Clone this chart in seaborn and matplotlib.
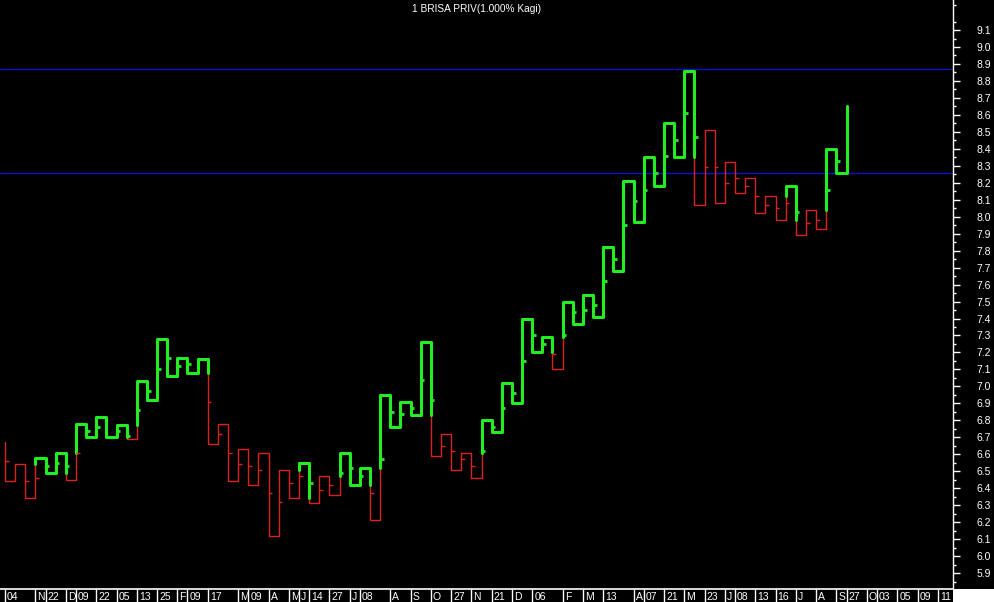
import numpy as np
import pandas as pd
import seaborn as sns
import matplotlib.pyplot as plt
from matplotlib.patches import Rectangle

# Kagi reversal levels (one per vertical line)
start_price = 6.67
kagi_levels = [6.44, 6.54, 6.34, 6.58, 6.49, 6.61, 6.45, 6.78, 6.70, 6.82,
               6.70, 6.77, 6.69, 7.03, 6.92, 7.28, 7.06, 7.17, 7.08, 7.16,
               6.66, 6.78, 6.44, 6.63, 6.42, 6.61, 6.12, 6.51, 6.34, 6.55,
               6.31, 6.47, 6.36, 6.61, 6.42, 6.52, 6.21, 6.95, 6.76, 6.91,
               6.83, 7.26, 6.59, 6.72, 6.51, 6.61, 6.46, 6.80, 6.73, 7.02,
               6.90, 7.40, 7.20, 7.29, 7.10, 7.50, 7.37, 7.54, 7.41, 7.82,
               7.68, 8.21, 7.97, 8.35, 8.18, 8.55, 8.35, 8.86, 8.07, 8.51,
               8.08, 8.32, 8.14, 8.23, 8.02, 8.12, 7.98, 8.18, 7.89, 8.04,
               7.93, 8.40, 8.26, 8.65]

# period marker on each vertical line (nan = none)
nan = np.nan
period_marks = [6.56, nan, 6.44, 6.46, 6.53, 6.55, 6.53, 6.61, 6.74, 6.76,
                nan, 6.74, 6.71, 6.86, 6.97, 7.10, 7.17, 7.12, 7.13, nan,
                6.91, 6.72, 6.61, 6.54, 6.53, 6.51, 6.37, 6.32, 6.43, 6.47,
                6.43, 6.39, 6.42, 6.49, 6.52, 6.47, 6.37, 6.57, 6.85, 6.84,
                6.87, 7.04, 6.92, 6.65, 6.62, 6.57, 6.53, 6.62, 6.76, 6.87,
                6.96, 7.15, 7.30, 7.25, 7.19, 7.30, 7.44, 7.45, 7.48, 7.62,
                7.75, 7.95, 8.09, 8.16, 8.26, 8.36, 8.45, 8.61, 8.47, 8.29,
                8.29, 8.20, 8.23, 8.18, 8.12, 8.07, 8.05, 8.08, 8.03, 7.96,
                7.98, 8.16, 8.33, nan]

# horizontal reference lines
hlines = [8.87, 8.26]

# date labels on the bottom strip and the vertical line index they start at
date_labels = ["04", "N", "22", "D", "09", "22", "05", "13", "25", "F",
               "09", "17", "M", "09", "A", "M", "J", "14", "27", "J",
               "08", "A", "S", "O", "27", "N", "21", "D", "06", "F",
               "M", "13", "A", "07", "21", "M", "23", "J", "08", "13",
               "16", "J", "A", "S", "27", "O", "03", "05", "09", "11"]
date_pos = [0, 3, 4, 6, 7, 9, 11, 13, 15, 17,
            18, 20, 23, 24, 26, 28, 29, 30, 32, 34,
            35, 38, 40, 42, 44, 46, 48, 50, 52, 55,
            57, 59, 62, 63, 65, 67, 69, 71, 72, 74,
            76, 78, 80, 82, 83, 85, 86, 88, 90, 92]

GREEN, RED = "#22ee22", "#dd2222"

# build kagi path, split into runs of yang (thick green) / yin (thin red)
rows = []
verts = []  # (from, to, state before, split level, state after)
run = 0
state = "yin"
cur = start_price
last_high, last_low = start_price, None
rows.append((0, cur, state, run))
for i, lvl in enumerate(kagi_levels):
    before, split = state, None
    if lvl > cur:
        if state == "yin" and lvl > last_high and cur < last_high:
            split = last_high
        last_high = lvl
    elif last_low is not None and state == "yang" and lvl < last_low and cur > last_low:
        split = last_low
    if lvl <= cur:
        last_low = lvl
    if split is not None:
        rows.append((i, split, state, run))
        run += 1
        state = "yang" if state == "yin" else "yin"
        rows.append((i, split, state, run))
    rows.append((i, lvl, state, run))
    verts.append((cur, lvl, before, split, state))
    cur = lvl
    if i < len(kagi_levels) - 1:
        rows.append((i + 1, lvl, state, run))

df = pd.DataFrame(rows, columns=["x", "price", "state", "run"])

sns.set_style("dark")
plt.rcParams["font.family"] = ["Liberation Sans", "DejaVu Sans"]

W, H = 994, 602
fig = plt.figure(figsize=(W / 100, H / 100), dpi=100, facecolor="black")
ax = fig.add_axes([0, 13 / H, 953 / W, 589 / H])
ax.set_facecolor("black")

sns.lineplot(data=df, x="x", y="price", hue="state", size="state", units="run",
             estimator=None, sort=False, palette={"yang": GREEN, "yin": RED},
             sizes={"yang": 2.2, "yin": 1.0}, legend=False, ax=ax, zorder=3)

# period markers: short stubs to the right of the vertical lines
for i, m in enumerate(period_marks):
    if np.isnan(m):
        continue
    a, b, st0, split, st1 = verts[i]
    st = st0
    if split is not None:
        if (b > a and m > split) or (b < a and m < split):
            st = st1
    yang = st == "yang"
    ax.plot([i, i + 0.36], [m, m], color=GREEN if yang else RED,
            lw=2.0 if yang else 1.0, solid_capstyle="butt", zorder=3)

for h in hlines:
    ax.axhline(h, color="#1010d0", lw=1.0, zorder=2)

x0, x1 = -0.49, 93.5
ax.set_xlim(x0, x1)
ax.set_ylim(5.806, 9.277)
ax.set_xticks([])
ax.set_xlabel("")
ax.set_ylabel("")
ax.grid(False)

ax.yaxis.tick_right()
majors = np.round(np.arange(5.9, 9.15, 0.1), 1)
ax.set_yticks(majors)
ax.set_yticklabels([f"{v:.1f}" for v in majors])
ax.set_yticks(np.round(np.arange(5.85, 9.27, 0.1), 2), minor=True)
ax.tick_params(axis="y", which="major", colors="white", length=5, width=1,
               pad=12, labelsize=7.5, right=True, left=False)
ax.tick_params(axis="y", which="minor", colors="white", length=2.5, width=1,
               right=True, left=False)
for s in ["left", "top", "bottom"]:
    ax.spines[s].set_visible(False)
ax.spines["right"].set_color("white")
ax.spines["right"].set_linewidth(1)

# bottom date strip
sx = fig.add_axes([0, 0, 953 / W, 13 / H])
sx.set_facecolor("black")
sx.set_xlim(x0, x1)
sx.set_ylim(0, 1)
sx.set_xticks([])
sx.set_yticks([])
for s in ["left", "right", "bottom"]:
    sx.spines[s].set_visible(False)
sx.spines["top"].set_color("white")
sx.spines["top"].set_linewidth(1.2)
sx.vlines(date_pos, 0, 1, color="white", lw=1.0)
for p, t in zip(date_pos, date_labels):
    sx.text(p + 0.2, 0.42, t, color="white", fontsize=7.5, ha="left", va="center")

fig.patches.append(Rectangle((953 / W, 0), 1 - 953 / W, 13 / H,
                             transform=fig.transFigure, facecolor="white",
                             edgecolor="none"))

fig.text(476 / W, 1 - 9 / H, "1 BRISA PRIV(1.000% Kagi)", color="white",
         fontsize=7.3, ha="center", va="center")

fig.savefig("out.png", dpi=100, facecolor="black")
